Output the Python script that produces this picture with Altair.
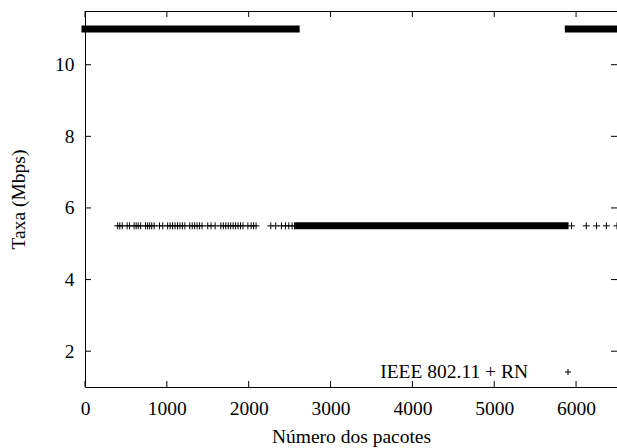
import altair as alt
import pandas as pd

# ---- data ----
x_ticks = [0, 1000, 2000, 3000, 4000, 5000, 6000]
y_ticks = [2, 4, 6, 8, 10]

# dense runs of consecutive packets at the same rate
run_start = [0, 2610, 5905]
run_end = [2580, 5865, 6500]
run_rate = [11, 5.5, 11]

# isolated packets sent at 5.5 Mbps
sparse_x = [400, 425, 455, 515, 545, 600, 625, 650, 680,
            740, 765, 790, 815, 845, 910, 950,
            1010, 1040, 1070, 1100, 1130, 1160, 1190, 1220,
            1280, 1310, 1340, 1370, 1400, 1430,
            1500, 1540, 1590,
            1660, 1690, 1720, 1750, 1780, 1810, 1840, 1870, 1900, 1930,
            1990, 2030, 2060, 2090,
            2270, 2330, 2400, 2450, 2490, 2530, 2560,
            5945, 6125, 6250, 6370, 6500]
sparse_rate = [5.5] * len(sparse_x)

legend_label = "IEEE 802.11 + RN"

FONT = "Times New Roman, Liberation Serif, DejaVu Serif, serif"
FS = 19.5
W, H = 532, 376
PLUS = "M-1,0L1,0M0,-1L0,1"

runs = pd.DataFrame({"start": run_start, "end": run_end, "rate": run_rate})
pts = pd.DataFrame({"x": sparse_x, "rate": sparse_rate})
xt = pd.DataFrame({"v": x_ticks})
yt = pd.DataFrame({"v": y_ticks})
leg = pd.DataFrame({"label": [legend_label]})

xscale = alt.Scale(domain=[0, 6500], nice=False, zero=False)
yscale = alt.Scale(domain=[1, 11.5], nice=False, zero=False)

xaxis = alt.Axis(values=x_ticks, format="d", grid=False, ticks=False, tickSize=0, domain=False,
                 labelFont=FONT, labelFontSize=FS, labelColor="black",
                 labelPadding=12, labelFontWeight="normal",
                 title="Número dos pacotes", titleFont=FONT, titleFontSize=FS,
                 titleFontWeight="normal", titleColor="black", titlePadding=10,
                 labelFlush=False)
yaxis = alt.Axis(values=y_ticks, format="d", grid=False, ticks=False, tickSize=0, domain=False,
                 labelFont=FONT, labelFontSize=FS, labelColor="black",
                 labelPadding=11,
                 title="Taxa (Mbps)", titleFont=FONT, titleFontSize=FS,
                 titleFontWeight="normal", titleColor="black", titlePadding=26)

base_runs = alt.Chart(runs).mark_rule(strokeWidth=7, strokeCap="square", color="black").encode(
    x=alt.X("start:Q", scale=xscale, axis=xaxis),
    x2="end:Q",
    y=alt.Y("rate:Q", scale=yscale, axis=yaxis),
)

sparse = alt.Chart(pts).mark_point(shape=PLUS, size=49, filled=False, strokeWidth=1,
                                   color="black", opacity=1).encode(
    x=alt.X("x:Q", scale=xscale),
    y=alt.Y("rate:Q", scale=yscale),
)

tick_style = dict(color="black", strokeWidth=1)
xt_bottom = alt.Chart(xt).mark_rule(**tick_style).encode(
    x=alt.X("v:Q", scale=xscale), y=alt.value(H), y2=alt.value(H - 6))
xt_top = alt.Chart(xt).mark_rule(**tick_style).encode(
    x=alt.X("v:Q", scale=xscale), y=alt.value(0), y2=alt.value(6))
yt_left = alt.Chart(yt).mark_rule(**tick_style).encode(
    y=alt.Y("v:Q", scale=yscale), x=alt.value(0), x2=alt.value(6))
yt_right = alt.Chart(yt).mark_rule(**tick_style).encode(
    y=alt.Y("v:Q", scale=yscale), x=alt.value(W), x2=alt.value(W - 6))

leg_text = alt.Chart(leg).mark_text(align="right", baseline="middle", font=FONT,
                                    fontSize=FS, color="black").encode(
    text="label:N", x=alt.value(443), y=alt.value(361))
leg_sym = alt.Chart(leg).mark_point(shape=PLUS, size=36, filled=False, strokeWidth=1,
                                    color="black", opacity=1).encode(
    x=alt.value(483), y=alt.value(361))

chart = alt.layer(base_runs, sparse, xt_bottom, xt_top, yt_left, yt_right,
                  leg_text, leg_sym).properties(
    width=W, height=H,
    autosize=alt.AutoSizeParams(type="none"),
    padding={"left": 85, "top": 11, "right": 0, "bottom": 61},
    background="white",
).configure_view(stroke="black", strokeWidth=1)

chart.save("out.html", embed_options={"renderer": "svg", "actions": False})
